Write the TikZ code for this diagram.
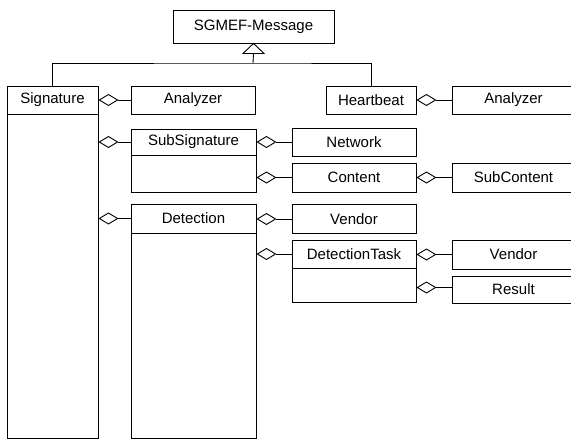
\documentclass[tikz,border=0pt]{standalone}
\usepackage{fontspec}
\setmainfont{Liberation Sans}
\usetikzlibrary{arrows.meta}
\tikzset{
  box/.style={draw, line width=0.9pt, inner sep=0pt, font=\fontsize{15}{18}\selectfont},
  agg/.style={line width=0.9pt, -{Diamond[open, length=20pt, width=12pt, line width=0.9pt]}},
  conn/.style={line width=0.9pt}
}
\begin{document}
\begin{tikzpicture}[x=1pt, y=-1pt]
\clip (0,0) rectangle (571,440);
\fill[white] (0,0) rectangle (571,440);
% top
\node[box, minimum width=161pt, minimum height=33pt] (msg) at (253.5,26.5) {SGMEF-Message};
% Signature
\node[box, minimum width=91pt, minimum height=28pt] (sig) at (52.5,100) {Signature};
\node[box, minimum width=91pt, minimum height=324pt] (sigb) at (52.5,276) {};
\node[box, minimum width=124pt, minimum height=28pt] (an1) at (193,100) {Analyzer};
% Heartbeat
\node[box, minimum width=90pt, minimum height=28pt] (hb) at (371,100) {Heartbeat};
\node[box, minimum width=123pt, minimum height=28pt] (an2) at (513.5,100) {Analyzer};
% SubSignature
\node[box, minimum width=125pt, minimum height=26pt] (subsig) at (193.5,142) {SubSignature};
\node[box, minimum width=125pt, minimum height=37pt] (subsigb) at (193.5,173.5) {};
% Detection
\node[box, minimum width=125pt, minimum height=29pt] (det) at (193.5,218.5) {Detection};
\node[box, minimum width=125pt, minimum height=205pt] (detb) at (193.5,335.5) {};
% right column
\node[box, minimum width=124pt, minimum height=28pt] (net) at (354,142) {Network};
\node[box, minimum width=124pt, minimum height=29pt] (cont) at (354,177.5) {Content};
\node[box, minimum width=123pt, minimum height=29pt] (subc) at (513.5,177.5) {SubContent};
\node[box, minimum width=124pt, minimum height=29pt] (ven1) at (354,219) {Vendor};
\node[box, minimum width=124pt, minimum height=28pt] (dtask) at (354,254) {DetectionTask};
\node[box, minimum width=124pt, minimum height=34pt] (dtaskb) at (354,285) {};
\node[box, minimum width=123pt, minimum height=29pt] (ven2) at (513.5,254.5) {Vendor};
\node[box, minimum width=123pt, minimum height=27pt] (res) at (513.5,289.5) {Result};
% generalization
\coordinate (j) at (253,63);
\coordinate (tb) at ([yshift=-10pt]msg.south);
\draw[conn] (sig.north) |- (j) -| (hb.north);
\draw[conn] (j) -- (tb);
\draw[conn, line join=miter] (msg.south) -- ++(-10.5,10) -- ++(21,0) -- cycle;
% aggregations
\draw[agg] (an1.west) -- (sig.east |- an1.west);
\draw[agg] (subsig.west) -- (sigb.east |- subsig.west);
\draw[agg] (det.west) -- (sigb.east |- det.west);
\draw[agg] (an2.west) -- (hb.east |- an2.west);
\draw[agg] (net.west) -- (subsig.east |- net.west);
\draw[agg] (cont.west) -- (subsigb.east |- cont.west);
\draw[agg] (subc.west) -- (cont.east |- subc.west);
\draw[agg] (ven1.west) -- (det.east |- ven1.west);
\draw[agg] (dtask.west) -- (detb.east |- dtask.west);
\draw[agg] (ven2.west) -- (dtask.east |- ven2.west);
\coordinate (resw) at ([yshift=2pt]res.west);
\draw[agg] (resw) -- (dtaskb.east |- resw);
\end{tikzpicture}
\end{document}
